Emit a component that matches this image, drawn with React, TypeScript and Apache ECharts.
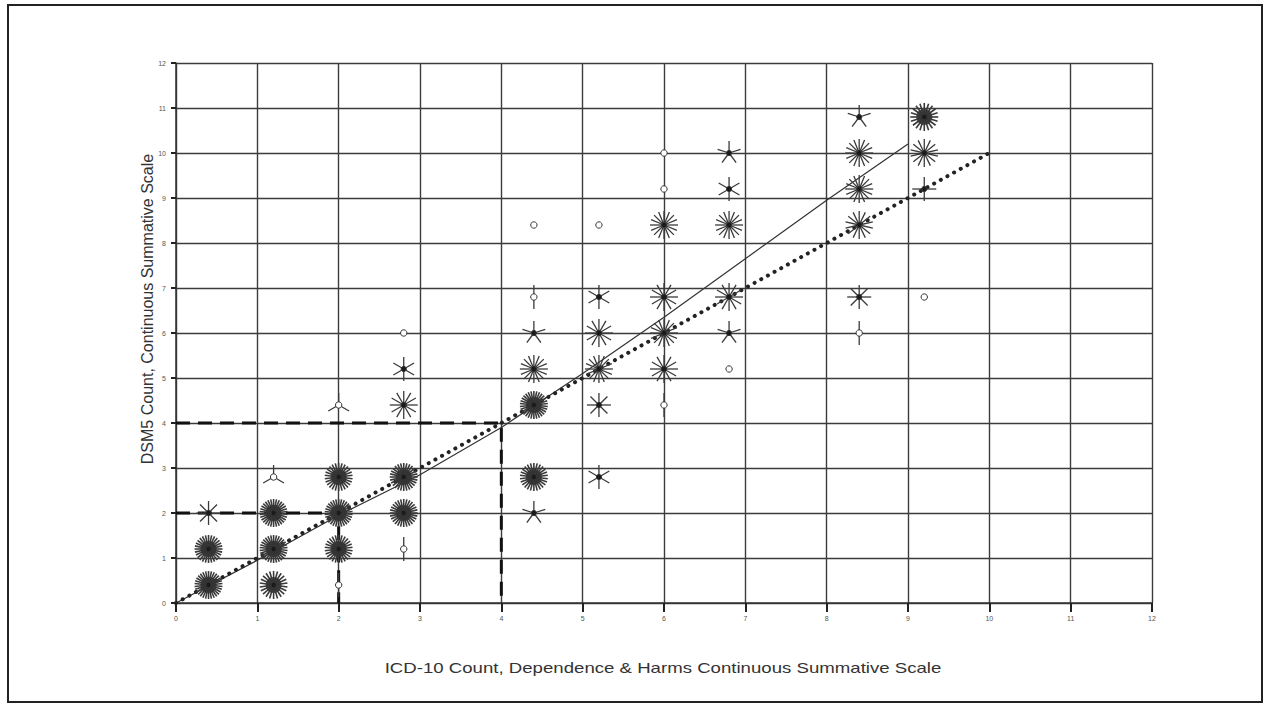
import React, { useEffect, useRef } from "react";
import * as echarts from "echarts";

// Sunflower points: [ICD-10 score, DSM5 score, number of petals (frequency)]
const sunflowerX = [
  0.4, 0.4, 0.4,
  1.2, 1.2, 1.2, 1.2,
  2.0, 2.0, 2.0, 2.0, 2.0,
  2.8, 2.8, 2.8, 2.8, 2.8, 2.8,
  4.4, 4.4, 4.4, 4.4, 4.4, 4.4, 4.4,
  5.2, 5.2, 5.2, 5.2, 5.2, 5.2,
  6.0, 6.0, 6.0, 6.0, 6.0, 6.0, 6.0,
  6.8, 6.8, 6.8, 6.8, 6.8, 6.8,
  8.4, 8.4, 8.4, 8.4, 8.4, 8.4,
  9.2, 9.2, 9.2, 9.2,
];
const sunflowerY = [
  0.4, 1.2, 2.0,
  0.4, 1.2, 2.0, 2.8,
  0.4, 1.2, 2.0, 2.8, 4.4,
  1.2, 2.0, 2.8, 4.4, 5.2, 6.0,
  2.0, 2.8, 4.4, 5.2, 6.0, 6.8, 8.4,
  2.8, 4.4, 5.2, 6.0, 6.8, 8.4,
  4.4, 5.2, 6.0, 6.8, 8.4, 9.2, 10.0,
  5.2, 6.0, 6.8, 8.4, 9.2, 10.0,
  6.0, 6.8, 8.4, 9.2, 10.0, 10.8,
  6.8, 9.2, 10.0, 10.8,
];
const sunflowerCount = [
  30, 28, 8,
  22, 30, 30, 3,
  2, 26, 30, 26, 3,
  2, 28, 28, 12, 6, 1,
  5, 26, 30, 16, 5, 2, 1,
  6, 8, 16, 12, 6, 1,
  2, 12, 16, 12, 16, 1, 1,
  1, 5, 12, 16, 6, 5,
  2, 8, 14, 16, 16, 5,
  1, 4, 14, 20,
];

// Reference lines
const identityLine = [[0, 0], [10, 10]];
const fittedLine = [
  [0, 0], [1, 0.95], [2, 1.95], [3, 2.85], [4, 3.9], [5, 5.1],
  [6, 6.35], [7, 7.65], [8, 8.95], [9, 10.2],
];
const cutoff4 = [[0, 4], [4, 4], [4, 0]];
const cutoff2 = [[0, 2], [2, 2], [2, 0]];

const axisTicks = [0, 12, 1]; // min, max, interval

const xTitle = "ICD-10 Count, Dependence & Harms Continuous Summative Scale";
const yTitle = "DSM5 Count, Continuous Summative Scale";

const FONT = "'Liberation Sans', Arial, sans-serif";

export default function App() {
  const ref = useRef<HTMLDivElement>(null);

  useEffect(() => {
    document.body.style.margin = "0";
    if (!ref.current) return;
    const chart = echarts.init(ref.current, null, { renderer: "svg" });

    const pts = sunflowerX.map((x, i) => [x, sunflowerY[i], sunflowerCount[i]]);

    const axisCommon = {
      type: "value",
      min: axisTicks[0],
      max: axisTicks[1],
      interval: axisTicks[2],
      axisLine: { show: true, onZero: false, lineStyle: { color: "#333", width: 1.5 } },
      splitLine: { show: true, lineStyle: { color: "#3c3c3c", width: 1.4 } },
    };

    const lineSeries = (data: number[][], style: any) => ({
      type: "line",
      data,
      symbol: "none",
      silent: true,
      z: 3,
      lineStyle: style,
    });

    chart.setOption({
      animation: false,
      backgroundColor: "#fff",
      grid: { left: 176, right: 114, top: 63, bottom: 101 },
      xAxis: {
        ...axisCommon,
        axisTick: { show: true, length: 9, lineStyle: { color: "#222", width: 2 } },
        axisLabel: { fontSize: 7, color: "#555", fontFamily: FONT, margin: 12 },
      },
      yAxis: {
        ...axisCommon,
        axisTick: { show: true, length: 5, lineStyle: { color: "#222", width: 2 } },
        axisLabel: { fontSize: 7, color: "#555", fontFamily: FONT, margin: 10 },
      },
      graphic: [
        {
          type: "rect",
          shape: { x: 8, y: 5, width: 1254, height: 697 },
          style: { fill: "none", stroke: "#222", lineWidth: 2 },
          silent: true,
        },
        {
          type: "text",
          x: 663,
          y: 668,
          scaleX: 1.33,
          style: {
            text: xTitle,
            fontSize: 14,
            fontFamily: FONT,
            fill: "#333",
            align: "center",
            verticalAlign: "middle",
          },
        },
        {
          type: "text",
          x: 147,
          y: 309,
          rotation: Math.PI / 2,
          style: {
            text: yTitle,
            fontSize: 16,
            fontFamily: FONT,
            fill: "#333",
            align: "center",
            verticalAlign: "middle",
          },
        },
      ],
      series: [
        lineSeries(cutoff4, { color: "#111", width: 3, type: [14, 8] }),
        lineSeries(cutoff2, { color: "#111", width: 3, type: [14, 8] }),
        lineSeries(fittedLine, { color: "#333", width: 1.2, type: "solid" }),
        lineSeries(identityLine, { color: "#222", width: 4, type: [0.1, 7.5], cap: "round" }),
        {
          type: "custom",
          data: pts,
          z: 4,
          silent: true,
          renderItem: (params: any, api: any) => {
            const x = api.value(0);
            const y = api.value(1);
            const n = api.value(2);
            const c = api.coord([x, y]);
            const cx = c[0];
            const cy = c[1];
            const children: any[] = [];
            if (n >= 2) {
              const L = n > 8 ? 14 : 12;
              const w = n > 18 ? 1.6 : 1.3;
              for (let i = 0; i < n; i++) {
                const a = Math.PI / 2 + (2 * Math.PI * i) / n;
                children.push({
                  type: "line",
                  shape: { x1: cx, y1: cy, x2: cx + L * Math.cos(a), y2: cy - L * Math.sin(a) },
                  style: { stroke: "#3a3a3a", lineWidth: w },
                });
              }
            }
            if (n > 18) {
              children.push({
                type: "circle",
                shape: { cx, cy, r: 8 },
                style: { fill: "#333", opacity: 0.85 },
              });
            }
            children.push({
              type: "circle",
              shape: { cx, cy, r: n >= 4 ? 2.6 : 3.2 },
              style: {
                fill: n >= 4 ? "#1a1a1a" : "#fff",
                stroke: "#333",
                lineWidth: 1,
              },
            });
            return { type: "group", children };
          },
        },
      ],
    });

    return () => chart.dispose();
  }, []);

  return <div ref={ref} style={{ width: 1266, height: 704 }} />;
}
